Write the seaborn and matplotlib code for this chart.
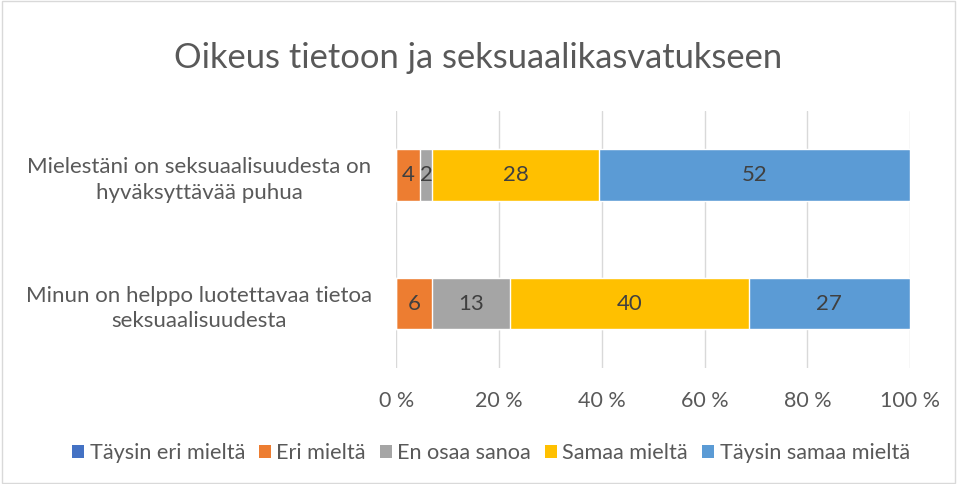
import matplotlib
matplotlib.use("Agg")
import matplotlib.pyplot as plt
from matplotlib.patches import Patch, Rectangle
import numpy as np
import seaborn as sns

# data (answer counts)
questions = ["Mielestäni on seksuaalisuudesta on\nhyväksyttävää puhua",
             "Minun on helppo luotettavaa tietoa\nseksuaalisuudesta"]
answers = ["Täysin eri mieltä", "Eri mieltä", "En osaa sanoa",
           "Samaa mieltä", "Täysin samaa mieltä"]
counts_q1 = [0, 4, 2, 28, 52]
counts_q2 = [0, 6, 13, 40, 27]
colors = ["#4472C4", "#ED7D31", "#A5A5A5", "#FFC000", "#5B9BD5"]
tick_vals = [0, 20, 40, 60, 80, 100]

sns.set_theme(style="white")
plt.rcParams["font.family"] = ["Lato", "DejaVu Sans"]
text_col = "#595959"

counts = np.array([counts_q1, counts_q2], dtype=float)
pct = counts / counts.sum(axis=1, keepdims=True) * 100
cum = pct.cumsum(axis=1)

fig = plt.figure(figsize=(9.57, 4.84), dpi=100)
ax = fig.add_axes([0.414, 0.240, 0.537, 0.531])

# stacked bars: draw cumulative totals from the back
for k in range(len(answers) - 1, -1, -1):
    sns.barplot(x=cum[:, k], y=questions, color=colors[k], orient="h",
                width=0.4, saturation=1, ax=ax)

# segment labels
for i in range(len(questions)):
    for k in range(len(answers)):
        if counts[i, k] > 0:
            mid = cum[i, k] - pct[i, k] / 2
            ax.text(mid, i, f"{int(counts[i, k])}", ha="center", va="center",
                    fontsize=16, color="#404040")

ax.set_xlim(0, 100)
ax.set_ylim(1.5, -0.5)
ax.set_xticks(tick_vals)
ax.set_xticklabels([f"{v} %" for v in tick_vals])
ax.xaxis.grid(True, color="#D9D9D9", linewidth=1)
ax.set_axisbelow(True)
for s in ax.spines.values():
    s.set_visible(False)
ax.set_xlabel("")
ax.set_ylabel("")
ax.tick_params(axis="x", length=0, pad=17, labelsize=15.5, labelcolor=text_col)
ax.tick_params(axis="y", length=0, pad=142, labelsize=16, labelcolor=text_col)
for lab in ax.get_yticklabels():
    lab.set_horizontalalignment("center")
    lab.set_multialignment("center")
    lab.set_linespacing(1.35)

fig.text(0.5, 0.88, "Oikeus tietoon ja seksuaalikasvatukseen", ha="center",
         va="center", fontsize=24.8, color=text_col)

handles = [Patch(facecolor=c, edgecolor="none") for c in colors]
fig.legend(handles, answers, loc="center", bbox_to_anchor=(0.513, 0.064),
           ncol=5, frameon=False, fontsize=15.6, labelcolor=text_col,
           handlelength=0.55, handleheight=0.55, handletextpad=0.25,
           columnspacing=0.65)

fig.patches.append(Rectangle((0.002, 0.002), 0.996, 0.996, transform=fig.transFigure,
                             fill=False, edgecolor="#D9D9D9", linewidth=1))

fig.savefig("out.png", dpi=100)
